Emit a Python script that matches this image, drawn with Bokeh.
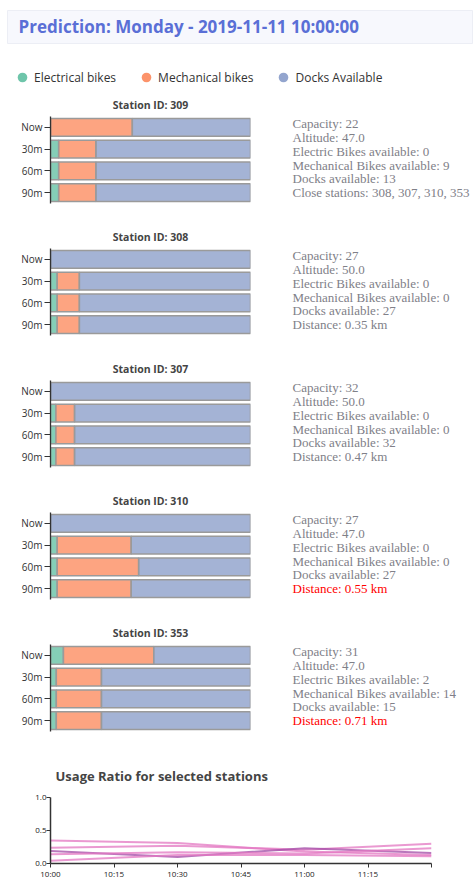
from datetime import datetime
from bokeh.plotting import figure
from bokeh.layouts import column, row
from bokeh.models import (Range1d, FactorRange, Label, Legend, LegendItem, Spacer,
                          FixedTicker, ColumnDataSource, DatetimeTickFormatter,
                          NumeralTickFormatter)
from bokeh.core.properties import value
from bokeh.embed import file_html
from bokeh.resources import INLINE

# ---------------- data ----------------
header_text = "Prediction: Monday - 2019-11-11 10:00:00"
series_names = ["Electrical bikes", "Mechanical bikes", "Docks Available"]
series_colors = ["#66c2a5", "#fc8d62", "#8da0cb"]
horizons = ["Now", "30m", "60m", "90m"]

station_ids = [309, 308, 307, 310, 353]
capacity = [22, 27, 32, 27, 31]
altitude = [47.0, 50.0, 50.0, 47.0, 47.0]
electric = [
    [0, 0.9, 0.9, 0.9],
    [0, 0.9, 0.9, 0.9],
    [0, 0.85, 0.85, 0.85],
    [0, 0.9, 0.9, 0.9],
    [2, 0.9, 0.9, 0.9],
]
mechanical = [
    [9, 4.1, 4.1, 4.1],
    [0, 3.0, 3.0, 3.0],
    [0, 3.0, 3.0, 3.0],
    [0, 10.0, 11.0, 10.0],
    [14, 7.0, 7.0, 7.0],
]
close_stations = [308, 307, 310, 353]
distance_km = [None, 0.35, 0.47, 0.55, 0.71]
distance_limit_km = 0.5

usage_title = "Usage Ratio for selected stations"
usage_times = ["10:00", "10:30", "11:00", "11:30"]
usage_309 = [0.35, 0.31, 0.18, 0.13]
usage_308 = [0.24, 0.27, 0.21, 0.30]
usage_307 = [0.19, 0.10, 0.23, 0.16]
usage_310 = [0.14, 0.17, 0.15, 0.23]
usage_353 = [0.04, 0.13, 0.13, 0.11]
usage_series = [usage_309, usage_308, usage_307, usage_310, usage_353]
usage_colors = ["#e377c2", "#e377c2", "#a24aa6", "#e377c2", "#e377c2"]
tick_times = ["10:00", "10:15", "10:30", "10:45", "11:00", "11:15", "11:30"]
tick_labels = ["10:00", "10:15", "10:30", "10:45", "11:00", "11:15", ""]

W = 473
SANS = "Open Sans"
INFO_GREY = "#808088"


def to_dt(hhmm):
    h, m = hhmm.split(":")
    return datetime(2019, 11, 11, int(h), int(m))


def to_ms(hhmm):
    return (to_dt(hhmm) - datetime(1970, 1, 1)).total_seconds() * 1000.0


def fig(**kw):
    p = figure(output_backend="svg", toolbar_location=None, **kw)
    p.frame_align = False
    return p


def bare(p):
    p.xaxis.visible = False
    p.yaxis.visible = False
    p.xgrid.visible = False
    p.ygrid.visible = False
    p.outline_line_color = None


# ---------------- header ----------------
hdr = fig(width=466, height=34, x_range=Range1d(0, 1), y_range=Range1d(0, 1), min_border=0)
bare(hdr)
hdr.background_fill_color = "#f7f8fd"
hdr.border_fill_color = "#f7f8fd"
hdr.outline_line_color = "#eceef5"
hdr.add_layout(Label(x=11, y=18, x_units="screen", y_units="screen", text=header_text,
                     text_font=SANS, text_font_style="bold", text_font_size="17px",
                     text_color="#5a6fd6", text_baseline="middle"))
header_block = column(Spacer(width=W, height=10), row(Spacer(width=7, height=34), hdr, spacing=0),
                      spacing=0)

# ---------------- legend ----------------
leg = fig(width=W, height=46, x_range=Range1d(0, 1), y_range=Range1d(0, 1), min_border=0)
bare(leg)
items = []
for name, col in zip(series_names, series_colors):
    r = leg.scatter(x=[float("nan")], y=[float("nan")], marker="circle", size=10,
                    fill_color=col, fill_alpha=0.95, line_color=None)
    items.append(LegendItem(label=name, renderers=[r]))
legend = Legend(items=items, orientation="horizontal", location=(10, 1),
                glyph_width=24, glyph_height=24, label_standoff=0, spacing=18,
                padding=0, margin=0, border_line_color=None,
                background_fill_alpha=0, label_text_font=SANS,
                label_text_font_size="12px", label_text_color="#333333")
leg.add_layout(legend)

# ---------------- stations ----------------
rows = []
for i, sid in enumerate(station_ids):
    cap = capacity[i]
    e = electric[i]
    m = mechanical[i]
    d = [cap - a - b for a, b in zip(e, m)]
    src = ColumnDataSource(dict(h=horizons, e=e, m=m, d=d))
    p = fig(width=258, height=132, x_range=Range1d(0, cap),
            y_range=FactorRange(*reversed(horizons)),
            min_border_left=50, min_border_right=8, min_border_top=26,
            min_border_bottom=19)
    p.hbar_stack(["e", "m", "d"], y="h", height=0.82, source=src,
                 fill_color=series_colors, fill_alpha=0.8,
                 line_color="#9a9a9a", line_width=1.5)
    p.title.text = f"Station ID: {sid}"
    p.title.align = "center"
    p.title.text_font = SANS
    p.title.text_font_size = "10.5px"
    p.title.text_font_style = "bold"
    p.title.standoff = 10
    p.xaxis.visible = False
    p.xgrid.visible = False
    p.ygrid.visible = False
    p.outline_line_color = None
    p.yaxis.axis_line_color = "#333333"
    p.yaxis.axis_line_width = 1.3
    p.yaxis.major_tick_line_color = "#333333"
    p.yaxis.major_tick_out = 6
    p.yaxis.major_tick_in = 0
    p.yaxis.major_label_standoff = 2
    p.yaxis.major_label_text_font = SANS
    p.yaxis.major_label_text_font_size = "10px"
    p.yaxis.major_label_text_color = "#333333"

    if distance_km[i] is None:
        last = "Close stations: " + ", ".join(str(s) for s in close_stations)
        last_col = INFO_GREY
    else:
        last = f"Distance: {distance_km[i]:.2f} km"
        last_col = "red" if distance_km[i] > distance_limit_km else INFO_GREY
    lines = [f"Capacity: {cap}", f"Altitude: {altitude[i]}",
             f"Electric Bikes available: {e[0]}",
             f"Mechanical Bikes available: {m[0]}",
             f"Docks available: {d[0]}", last]
    cols = [INFO_GREY] * 5 + [last_col]
    info = fig(width=215, height=132, x_range=Range1d(0, 1),
               y_range=Range1d(7.19, -2.445), min_border=0)
    bare(info)
    info.text(x=[0] * 6, y=list(range(6)), text=lines, text_color=cols,
              text_font=value("Liberation Serif"), text_font_size="13px",
              text_baseline="middle", x_offset=34)
    rows.append(row(p, info, spacing=0))

# ---------------- usage ratio ----------------
u = fig(width=W, height=131, x_axis_type="datetime",
        x_range=Range1d(to_dt(tick_times[0]), to_dt(tick_times[-1])),
        y_range=Range1d(0, 1),
        min_border_left=50, min_border_right=42, min_border_top=47,
        min_border_bottom=0)
xs = [to_dt(t) for t in usage_times]
for ser, col in zip(usage_series, usage_colors):
    u.line(xs, ser, line_color=col, line_width=2, line_alpha=0.75)
u.title.text = usage_title
u.title.text_font = SANS
u.title.text_font_size = "13px"
u.title.text_font_style = "bold"
u.title.offset = 5
u.title.standoff = 25
u.xgrid.visible = False
u.ygrid.visible = False
u.outline_line_color = None
u.xaxis.ticker = FixedTicker(ticks=[to_ms(t) for t in tick_times])
u.xaxis.formatter = DatetimeTickFormatter(minutes="%H:%M", hourmin="%H:%M", hours="%H:%M")
u.xaxis.major_label_overrides = {to_ms(t): lab for t, lab in zip(tick_times, tick_labels)}
u.yaxis.ticker = FixedTicker(ticks=[0, 0.5, 1.0])
u.yaxis.formatter = NumeralTickFormatter(format="0.0")
for ax in (u.xaxis[0], u.yaxis[0]):
    ax.axis_line_color = "#333333"
    ax.axis_line_width = 1.5
    ax.major_tick_line_color = "#333333"
    ax.major_tick_out = 4
    ax.major_tick_in = 0
    ax.minor_tick_line_color = None
    ax.major_label_standoff = 0
    ax.major_label_text_font = SANS
    ax.major_label_text_font_size = "8px"
    ax.major_label_text_color = "#222222"

page = column(header_block, leg, *rows, u, spacing=0)
open("out.html", "w").write(file_html(page, INLINE))
